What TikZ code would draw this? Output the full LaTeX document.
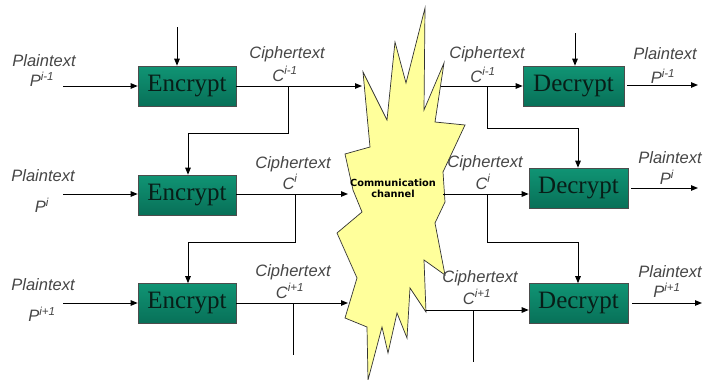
\documentclass[tikz,border=0pt]{standalone}
\usepackage{fontspec}
\setmainfont{Liberation Serif}
\setsansfont{Liberation Sans}
\newfontfamily\burstfont{DejaVu Sans}
\usetikzlibrary{arrows.meta}
\definecolor{boxtop}{RGB}{16,148,116}
\definecolor{boxmid}{RGB}{58,202,164}
\definecolor{boxbot}{RGB}{8,112,88}
\definecolor{boxtext}{RGB}{8,30,24}
\definecolor{labelgray}{RGB}{70,70,70}
\definecolor{burstfill}{RGB}{255,255,155}
\begin{document}
\begin{tikzpicture}[x=1pt,y=-1pt,
  cipherbox/.style={draw=black!70,line width=0.6pt,top color=boxtop,middle color=boxmid,bottom color=boxbot,
    minimum width=98pt,minimum height=40pt,inner sep=0pt,font=\fontsize{25}{25}\selectfont,text=boxtext},
  lbl/.style={font=\sffamily\itshape\fontsize{16.5}{17}\selectfont,text=labelgray,inner sep=0pt},
  conn/.style={line width=1pt,draw=black},
  arr/.style={conn,-{Triangle[length=7pt,width=5.5pt]}},
  plain/.style={conn}]
\useasboundingbox (0,0) rectangle (705,380);
\fill[white] (0,0) rectangle (705,380);

% burst (communication channel)
\draw[fill=burstfill,draw=black!80,line width=0.7pt]
 (363,72) -- (387,120) -- (395,42) -- (406,83) -- (425,8) -- (424,110) -- (444,63) -- (435,122)
 -- (465,125) -- (443,172) -- (445,202) -- (435,223) -- (445,275) -- (424,260) -- (426,312)
 -- (410,288) -- (407,338) -- (397,313) -- (388,353) -- (382,327) -- (368,380) -- (367,327)
 -- (345,318) -- (357,278) -- (337,233) -- (362,212) -- (353,190) -- (345,154) -- (370,147) -- cycle;
\node[font=\burstfont\bfseries\fontsize{9.8}{10}\selectfont,align=center,inner sep=0pt] (chan) at (393,188)
  {Communication\\[1pt]channel};

% burst contact points
\coordinate (bin1) at (362,86);
\coordinate (bout1) at (441,86);
\coordinate (bin2) at (348,194);
\coordinate (bout2) at (443,194);
\coordinate (bin3) at (348,303);
\coordinate (bout3) at (426,310);

% boxes
\node[cipherbox] (e1) at (187,86) {Encrypt};
\node[cipherbox] (e2) at (187,195) {Encrypt};
\node[cipherbox] (e3) at (187,303.5) {Encrypt};
\node[cipherbox,minimum width=101pt] (d1) at (573.5,86) {Decrypt};
\node[cipherbox,minimum width=99pt] (d2) at (578.5,188) {Decrypt};
\node[cipherbox,minimum width=99pt] (d3) at (578.5,303.5) {Decrypt};

% free ends
\coordinate (pin1) at (63,86);
\coordinate (pin2) at (63,194);
\coordinate (pin3) at (63,303);
\coordinate (ktop1) at (177,27);
\coordinate (ktop2) at (575,33);
\coordinate (pout1s) at (627,85);
\coordinate (pout1) at (698,85);
\coordinate (pout2s) at (631,188);
\coordinate (pout2) at (698,188);
\coordinate (pout3s) at (632,303);
\coordinate (pout3) at (702,303);
\coordinate (c3end) at (293,355);
\coordinate (c3rend) at (473,362);

% left inputs
\draw[arr] (pin1) -- (e1.west |- pin1);
\draw[arr] (pin2) -- (e2.west |- pin2);
\draw[arr] (pin3) -- (e3.west |- pin3);
\draw[arr] (ktop1) -- (ktop1 |- e1.north);

% encrypt to channel
\draw[arr] (e1.east |- bin1) -- (bin1);
\draw[arr] (e2.east |- bin2) -- (bin2);
\draw[arr] (e3.east |- bin3) -- (bin3);

% chaining on encrypt side
\coordinate (b1) at (288,86);
\coordinate (b2) at (295,194);
\coordinate (b3) at (293,303);
\draw[arr] (b1) -- (288,133) -- (188,133) -- (e2.north -| 188,0);
\draw[arr] (b2) -- (295,242) -- (188,242) -- (e3.north -| 188,0);
\draw[plain] (b3) -- (c3end);

% channel to decrypt
\draw[arr] (bout1) -- (d1.west |- bout1);
\draw[arr] (bout2) -- (d2.west |- bout2);
\draw[arr] (bout3) -- (d3.west |- bout3);
\draw[arr] (ktop2) -- (ktop2 |- d1.north);

% chaining on decrypt side
\coordinate (r1) at (487,86);
\coordinate (r2) at (487,194);
\coordinate (r3) at (473,310);
\draw[arr] (r1) -- (487,128) -- (578,128) -- (d2.north -| 578,0);
\draw[arr] (r2) -- (487,242) -- (578,242) -- (d3.north -| 578,0);
\draw[plain] (r3) -- (c3rend);

% outputs
\draw[arr] (pout1s) -- (pout1);
\draw[arr] (pout2s) -- (pout2);
\draw[arr] (pout3s) -- (pout3);

% labels left
\node[lbl] (lp1) at (44,61) {Plaintext};
\node[lbl] (lp1b) at (42,79) {P\textsuperscript{i-1}};
\node[lbl] (lp2) at (43,176) {Plaintext};
\node[lbl] (lp2b) at (42,205) {P\textsuperscript{i}};
\node[lbl] (lp3) at (43,285) {Plaintext};
\node[lbl] (lp3b) at (42,314) {P\textsuperscript{i+1}};

\node[lbl] (lc1) at (287,54) {Ciphertext};
\node[lbl] (lc1b) at (285,74) {C\textsuperscript{i-1}};
\node[lbl] (lc2) at (293,164) {Ciphertext};
\node[lbl] (lc2b) at (290,182) {C\textsuperscript{i}};
\node[lbl] (lc3) at (293,272) {Ciphertext};
\node[lbl] (lc3b) at (290,291) {C\textsuperscript{i+1}};

% labels right
\node[lbl] (rc1) at (487,54) {Ciphertext};
\node[lbl] (rc1b) at (483,75) {C\textsuperscript{i-1}};
\node[lbl] (rc2) at (485,163) {Ciphertext};
\node[lbl] (rc2b) at (483,182) {C\textsuperscript{i}};
\node[lbl] (rc3) at (480,278) {Ciphertext};
\node[lbl] (rc3b) at (477,297) {C\textsuperscript{i+1}};

\node[lbl] (rp1) at (665,54) {Plaintext};
\node[lbl] (rp1b) at (663,76) {P\textsuperscript{i-1}};
\node[lbl] (rp2) at (670,158) {Plaintext};
\node[lbl] (rp2b) at (667,177) {P\textsuperscript{i}};
\node[lbl] (rp3) at (670,272) {Plaintext};
\node[lbl] (rp3b) at (667,290) {P\textsuperscript{i+1}};
\end{tikzpicture}
\end{document}
